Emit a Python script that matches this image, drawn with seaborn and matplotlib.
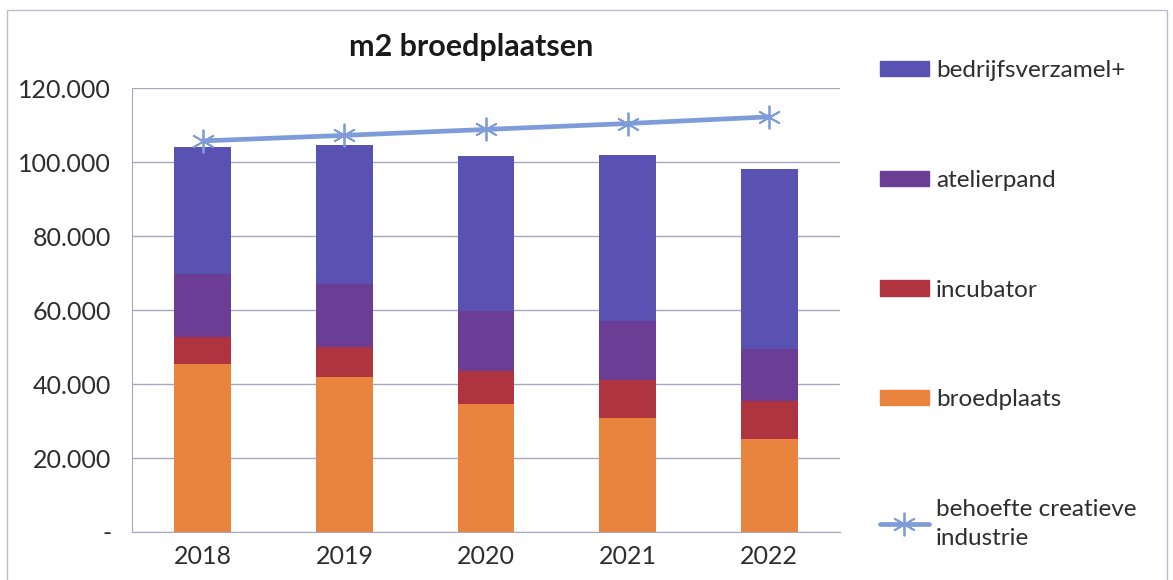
import numpy as np
import pandas as pd
import matplotlib
matplotlib.use("Agg")
import matplotlib.pyplot as plt
from matplotlib.patches import Patch, Rectangle
from matplotlib.lines import Line2D
from matplotlib.ticker import FuncFormatter, FixedLocator
import seaborn as sns

# data (m2)
years = ["2018", "2019", "2020", "2021", "2022"]
broedplaats = [45300, 42000, 34600, 30900, 25200]
incubator = [7500, 7900, 9000, 10200, 10300]
atelierpand = [16800, 17100, 16200, 16000, 14000]
bedrijfsverzamel = [34400, 37600, 41900, 44900, 48500]
behoefte = [105700, 107200, 108800, 110400, 112200]

series_names = ["broedplaats", "incubator", "atelierpand", "bedrijfsverzamel+"]
series_colors = ["#E8843E", "#B0343F", "#6B3D94", "#5A52B3"]
line_color = "#7E9CD8"

sns.set_style("white")
plt.rcParams["font.family"] = ["Lato", "DejaVu Sans"]

df = pd.DataFrame({
    "jaar": years,
    "broedplaats": broedplaats,
    "incubator": incubator,
    "atelierpand": atelierpand,
    "bedrijfsverzamel+": bedrijfsverzamel,
})
cum = df[series_names].cumsum(axis=1)

fig = plt.figure(figsize=(11.73, 5.8), dpi=100)
ax = fig.add_axes([132 / 1173, 1 - 532 / 580, 708 / 1173, 444 / 580])

# stacked bars: draw the tallest cumulative layer first
for name, col in reversed(list(zip(series_names, series_colors))):
    sns.barplot(x=df["jaar"], y=cum[name], color=col, saturation=1,
                width=0.4, linewidth=0, ax=ax, zorder=2)

sns.lineplot(x=np.arange(len(years)), y=behoefte, color=line_color,
             linewidth=3.4, marker=(6, 2, 0), markersize=17,
             markeredgewidth=1.3, markeredgecolor=line_color,
             legend=False, ax=ax, zorder=3)

ax.set_xlim(-0.5, len(years) - 0.5)
ax.set_ylim(0, 120000)
ax.yaxis.set_major_locator(FixedLocator(np.arange(0, 120001, 20000)))
ax.yaxis.set_major_formatter(FuncFormatter(
    lambda v, p: "-" if v == 0 else f"{int(v):,}".replace(",", ".")))
ax.set_xlabel("")
ax.set_ylabel("")

grid_col = "#A8A6C4"
txt_col = "#2e2e2e"
ax.grid(axis="y", color=grid_col, linewidth=1, zorder=0)
ax.set_axisbelow(True)
for s in ["top", "right"]:
    ax.spines[s].set_visible(False)
ax.spines["left"].set_color(grid_col)
ax.spines["bottom"].set_color(grid_col)

ax.tick_params(axis="y", length=7, color=grid_col, pad=8,
               labelsize=18, labelcolor=txt_col)
ax.set_xticks(np.arange(len(years)))
ax.set_xticklabels(years)
ax.tick_params(axis="x", which="major", length=0, pad=9,
               labelsize=18, labelcolor=txt_col)
ax.set_xticks(np.arange(-0.5, len(years)), minor=True)
ax.tick_params(axis="x", which="minor", length=7, color=grid_col)

fig.text(471 / 1173, 1 - 47 / 580, "m2 broedplaatsen", ha="center",
         va="center", fontsize=22, fontweight="bold", color="#1a1a1a")

handles = [Patch(color=c) for c in reversed(series_colors)]
handles.append(Line2D([], [], color=line_color, linewidth=3.4,
                      marker=(6, 2, 0), markersize=17, markeredgewidth=1.3))
labels = list(reversed(series_names)) + ["behoefte creatieve\nindustrie"]
leg = fig.legend(handles, labels, loc="upper left",
                 bbox_to_anchor=(868 / 1173, 1 - 48 / 580), frameon=False,
                 fontsize=17.5, labelspacing=3.65, handlelength=2.0,
                 handleheight=0.6, handletextpad=0.3, borderpad=0,
                 labelcolor=txt_col)
for t in leg.get_texts():
    t.set_linespacing(1.45)

fig.add_artist(Rectangle((7 / 1173, -0.05), 1160 / 1173, 1.05 - 10 / 580,
                         transform=fig.transFigure, fill=False,
                         edgecolor="#BDBBD0", linewidth=1))

fig.savefig("out.png", dpi=100, facecolor="white")
